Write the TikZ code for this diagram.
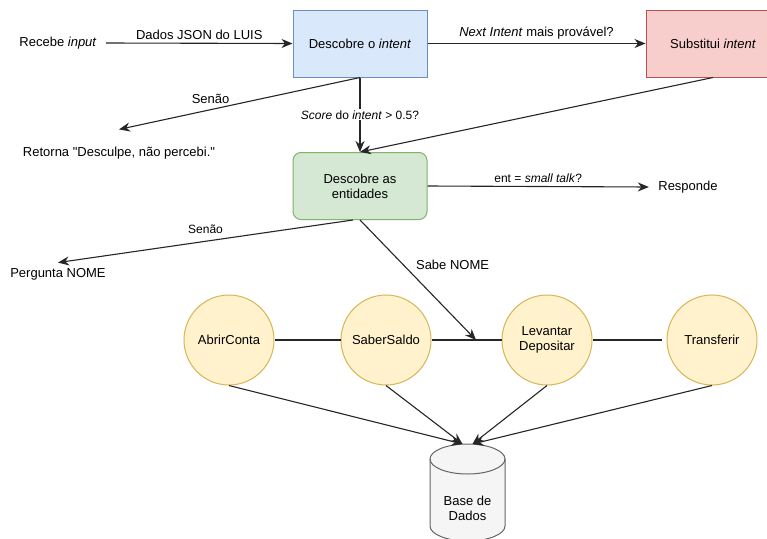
\documentclass[tikz,border=0pt]{standalone}
\usepackage{fontspec}
\setmainfont{Liberation Sans}
\usetikzlibrary{arrows.meta}

\definecolor{blufill}{HTML}{DAE8FC}
\definecolor{bluline}{HTML}{6C8EBF}
\definecolor{redfill}{HTML}{F8CECC}
\definecolor{redline}{HTML}{B85450}
\definecolor{grnfill}{HTML}{D5E8D4}
\definecolor{grnline}{HTML}{82B366}
\definecolor{ylwfill}{HTML}{FFF2CC}
\definecolor{ylwline}{HTML}{D6B656}
\definecolor{dbfill}{HTML}{F5F5F5}
\definecolor{dbline}{HTML}{666666}

\begin{document}
\begin{tikzpicture}[x=1pt,y=-1pt,
		every node/.style={font=\fontsize{13}{15}\selectfont},
		lbl/.style={font=\fontsize{12}{14}\selectfont},
		box/.style={draw, line width=1pt, minimum width=134pt, minimum height=67pt, align=center},
		bubble/.style={circle, draw=ylwline, fill=ylwfill, line width=1pt, minimum size=90pt, inner sep=0pt, align=center},
		arr/.style={-{Stealth[length=11pt,width=9pt,inset=3.5pt]}, line width=1.1pt, draw=black!85},
		link/.style={line width=1.1pt, draw=black!85}]
			\useasboundingbox (0,0) rectangle (767,538);
			\fill[white] (0,0) rectangle (767,538);
			% top row
			\node (recebe) at (58,43) {Recebe \textit{input}};
			\node[box, fill=blufill, draw=bluline] (intent) at (360,43.5) {Descobre o \textit{intent}};
			\node[box, fill=redfill, draw=redline] (subst) at (713,43.5) {Substitui \textit{intent}};
			\node (retorna) at (119,153) {Retorna \textquotedbl Desculpe, não percebi.\textquotedbl};
			\node[box, rounded corners=8pt, fill=grnfill, draw=grnline] (entid) at (360,186) {Descobre as\\entidades};
			\node (responde) at (688,187) {Responde};
			\node (pergunta) at (58,274) {Pergunta NOME};
			\coordinate (juncao) at (476,340);
			% intents
			\node[bubble] (abrir) at (229,340) {AbrirConta};
			\node[bubble] (saldo) at (386,340) {SaberSaldo};
			\node[bubble] (levantar) at (547,340) {Levantar\\Depositar};
			\node[bubble] (transf) at (712,340) {Transferir};
			% base de dados
			\filldraw[fill=dbfill, draw=dbline, line width=1pt] (430,459) -- (430,526) arc[start angle=180, end angle=360, x radius=37.5, y radius=-15] -- (505,459) arc[start angle=0, end angle=180, x radius=37.5, y radius=-15] -- cycle;
			\draw[dbline, line width=1pt] (430,459) arc[start angle=180, end angle=360, x radius=37.5, y radius=-15];
			\coordinate (dbtop) at (467.5,444);
			\node[align=center] (db) at (467.5,508) {Base de\\Dados};

			\draw[arr] ([xshift=6pt]recebe.east) -- (intent.west) node[midway, above] {Dados JSON do LUIS};
			\draw[arr] (intent.east) -- (subst.west) node[midway, above] {\textit{Next Intent} mais provável?};
			\draw[arr] (intent.south) -- (entid.north) node[midway, lbl, fill=white, inner sep=1pt] {\textit{Score} do \textit{intent} > 0.5?};
			\draw[arr] (intent.south) -- ([yshift=14pt]retorna.north) node[pos=0.62, above=2pt] {Senão};
			\draw[arr] (subst.south) -- (entid.north);
			\draw[arr] (entid.east) -- ([xshift=-6pt]responde.west) node[midway, above, lbl] {ent = \textit{small talk}?};
			\draw[arr] ([xshift=-7pt]entid.south) -- ([yshift=2pt]pergunta.north) node[midway, above=4pt, lbl] {Senão};
			\draw[arr] (entid.south) -- (juncao) node[pos=0.45, above right] {Sabe NOME};

			\draw[link] (abrir) -- (saldo);
			\draw[link] (saldo) -- (levantar);
			\draw[link] (levantar) -- ([xshift=-5pt]transf.west);

			\draw[arr] (abrir.south) -- ([xshift=-5pt]dbtop);
			\draw[arr] (saldo.south) -- ([xshift=-5pt]dbtop);
			\draw[arr] (levantar.south) -- ([xshift=5pt]dbtop);
			\draw[arr] (transf.south) -- ([xshift=5pt]dbtop);
		\end{tikzpicture}
\end{document}
